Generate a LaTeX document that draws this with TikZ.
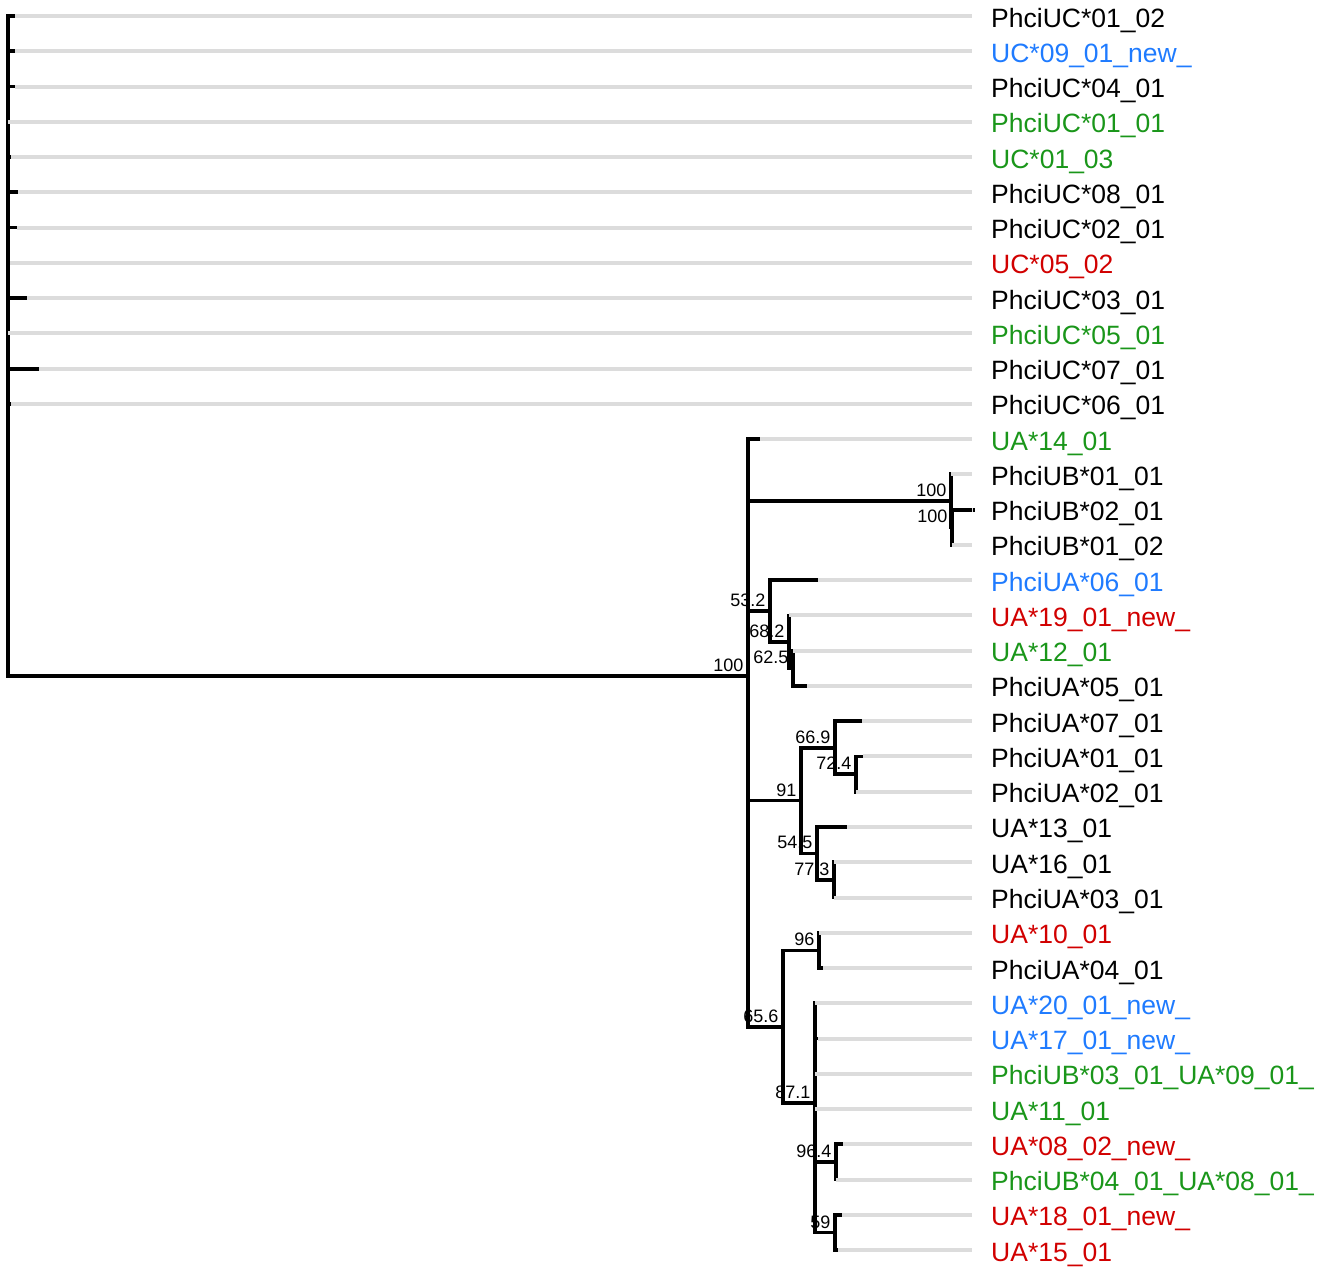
\documentclass[tikz,border=0pt]{standalone}
\usepackage{fontspec}
\setmainfont{Liberation Sans}
\usepackage{tikz}
\definecolor{taxblue}{HTML}{1F7BFF}
\definecolor{taxred}{HTML}{D10000}
\definecolor{taxgreen}{HTML}{1A961A}
\definecolor{leadgray}{HTML}{DCDCDC}

\begin{document}
\begin{tikzpicture}[x=1pt, y=-1pt,
  branch/.style={line width=3.8pt, black, line cap=rect},
  leader/.style={line width=4pt, leadgray},
  taxon/.style={anchor=base west, inner sep=0pt, font=\fontsize{26.5}{29}\selectfont},
  boot/.style={anchor=base east, inner sep=0pt, font=\fontsize{18}{20}\selectfont}]

  \useasboundingbox (0,0) rectangle (1336,1269);

  % ============== Internal nodes ==============
  \coordinate (root) at (8,340);
  \coordinate (ua) at (748,675.6);
  \coordinate (a) at (951,500.8);
  \coordinate (b) at (952,527.3);
  \coordinate (c) at (770,611.0);
  \coordinate (d) at (789,641.9);
  \coordinate (e) at (793,668.3);
  \coordinate (n91) at (801,800.5);
  \coordinate (f) at (835,747.7);
  \coordinate (g) at (856,774.1);
  \coordinate (h) at (817,853.4);
  \coordinate (i) at (834,879.9);
  \coordinate (n65) at (783,1026.8);
  \coordinate (j) at (819,950.4);
  \coordinate (k) at (815,1103.2);
  \coordinate (l) at (836,1162.0);
  \coordinate (m) at (835,1232.5);

  % ============== Leaves (tip x / label / colour) ==============
  \foreach \tx/\lab/\col [count=\n from 0] in {
      15/PhciUC*01\_02/black, 15/UC*09\_01\_new\_/taxblue,
      15/PhciUC*04\_01/black, 8/PhciUC*01\_01/taxgreen,
      11/UC*01\_03/taxgreen, 18/PhciUC*08\_01/black,
      17/PhciUC*02\_01/black, 10/UC*05\_02/taxred,
      27/PhciUC*03\_01/black, 8/PhciUC*05\_01/taxgreen,
      39/PhciUC*07\_01/black, 11/PhciUC*06\_01/black,
      760/UA*14\_01/taxgreen, 951/PhciUB*01\_01/black,
      973/PhciUB*02\_01/black, 952/PhciUB*01\_02/black,
      818/PhciUA*06\_01/taxblue, 789/UA*19\_01\_new\_/taxred,
      793/UA*12\_01/taxgreen, 807/PhciUA*05\_01/black,
      862/PhciUA*07\_01/black, 863/PhciUA*01\_01/black,
      856/PhciUA*02\_01/black, 847/UA*13\_01/black,
      834/UA*16\_01/black, 834/PhciUA*03\_01/black,
      819/UA*10\_01/taxred, 823/PhciUA*04\_01/black,
      815/UA*20\_01\_new\_/taxblue, 818/UA*17\_01\_new\_/taxblue,
      815/PhciUB*03\_01\_UA*09\_01\_/taxgreen, 815/UA*11\_01/taxgreen,
      843/UA*08\_02\_new\_/taxred, 836/PhciUB*04\_01\_UA*08\_01\_/taxgreen,
      842/UA*18\_01\_new\_/taxred, 838/UA*15\_01/taxred}{
    \coordinate (t\n) at (\tx,{16+35.26*\n});
    \coordinate (x\n) at (972,{16+35.26*\n});
    \node[taxon, text=\col] (lab\n) at (991,{27+35.26*\n}) {\lab};
  }

  % ============== Support values ==============
  \foreach \p/\v in {ua/100, a/100, b/100, c/53.2, d/68.2, e/62.5, n91/91,
      f/66.9, g/72.4, h/54.5, i/77.3, n65/65.6, j/96, k/87.1, l/96.4, m/59}
    \node[boot] (s\p) at ([xshift=-4.5pt,yshift=4.5pt]\p) {\v};

  % ============== Branches ==============
  \foreach \n in {0,...,11}
    \draw[branch] (root) |- (t\n);
  \foreach \p/\q in {root/ua, ua/t12, ua/a, ua/c, ua/n91, ua/n65,
      a/t13, a/b, b/t14, b/t15,
      c/t16, c/d, d/t17, d/e, e/t18, e/t19,
      n91/f, n91/h, f/t20, f/g, g/t21, g/t22,
      h/t23, h/i, i/t24, i/t25,
      n65/j, n65/k, j/t26, j/t27,
      k/t28, k/t29, k/t30, k/t31, k/l, k/m,
      l/t32, l/t33, m/t34, m/t35}
    \draw[branch] (\p) |- (\q);

  % grey leaders to the labels
  \foreach \n in {0,...,35}
    \draw[leader] (t\n) -- (x\n);

\end{tikzpicture}
\end{document}
